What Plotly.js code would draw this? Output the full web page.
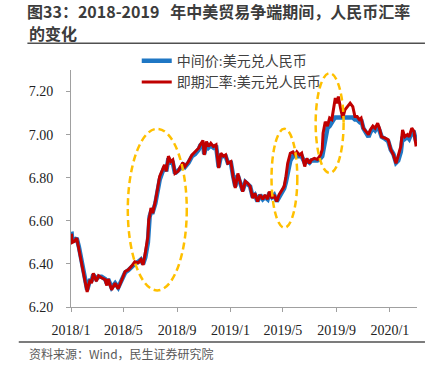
<!DOCTYPE html>
<html>
<head>
<meta charset="utf-8">
<script src="https://cdn.plot.ly/plotly-3.0.1.min.js"></script>
<style>html,body{margin:0;padding:0;background:#fff;}#chart{width:438px;height:372px;}</style>
</head>
<body>
<div id="chart"></div>
<script>
const dates = [
"2018-01-02","2018-01-04","2018-01-09","2018-01-14","2018-01-19","2018-01-25","2018-01-30","2018-02-02","2018-02-07","2018-02-10",
"2018-02-14","2018-02-17","2018-02-21","2018-02-28","2018-03-05","2018-03-12","2018-03-20","2018-03-24","2018-03-27","2018-04-04",
"2018-04-12","2018-04-19","2018-04-27","2018-05-05","2018-05-12","2018-05-20","2018-05-27","2018-06-04","2018-06-10","2018-06-15",
"2018-06-20","2018-06-26","2018-06-28","2018-06-30","2018-07-03","2018-07-07","2018-07-13","2018-07-18","2018-07-23","2018-07-28",
"2018-08-03","2018-08-07","2018-08-12","2018-08-17","2018-08-22","2018-08-27","2018-09-03","2018-09-07","2018-09-14","2018-09-19",
"2018-09-27","2018-10-05","2018-10-12","2018-10-20","2018-10-24","2018-10-30","2018-11-02","2018-11-07","2018-11-12","2018-11-17",
"2018-11-23","2018-11-29","2018-12-05","2018-12-10","2018-12-16","2018-12-21","2018-12-26","2019-01-02","2019-01-07","2019-01-12",
"2019-01-18","2019-01-23","2019-01-29","2019-02-04","2019-02-09","2019-02-15","2019-02-21","2019-02-26","2019-03-04","2019-03-10",
"2019-03-16","2019-03-21","2019-03-27","2019-03-31","2019-04-06","2019-04-11","2019-04-17","2019-04-22","2019-04-29","2019-05-04",
"2019-05-08","2019-05-12","2019-05-18","2019-05-24","2019-05-29","2019-06-02","2019-06-08","2019-06-13","2019-06-20","2019-06-25",
"2019-07-01","2019-07-05","2019-07-12","2019-07-19","2019-07-26","2019-07-30","2019-08-01","2019-08-06","2019-08-11","2019-08-16",
"2019-08-21","2019-08-25","2019-08-29","2019-09-02","2019-09-05","2019-09-10","2019-09-15","2019-09-20","2019-09-26","2019-10-02",
"2019-10-08","2019-10-13","2019-10-18","2019-10-23","2019-10-27","2019-11-01","2019-11-07","2019-11-13","2019-11-17","2019-11-23",
"2019-11-28","2019-12-04","2019-12-08","2019-12-13","2019-12-21","2019-12-28","2020-01-03","2020-01-09","2020-01-15","2020-01-20",
"2020-01-26","2020-01-30","2020-02-04","2020-02-10","2020-02-14","2020-02-20","2020-02-25","2020-03-01"
];
// 即期汇率
const spot = [
6.54,6.50,6.505,6.52,6.47,6.405,6.35,6.31,6.27,6.30,
6.327,6.31,6.357,6.32,6.345,6.336,6.327,6.30,6.33,6.28,
6.31,6.285,6.33,6.365,6.373,6.39,6.41,6.405,6.42,6.395,
6.45,6.527,6.605,6.62,6.66,6.636,6.69,6.76,6.806,6.83,
6.86,6.83,6.90,6.875,6.883,6.82,6.83,6.845,6.87,6.852,
6.875,6.906,6.92,6.937,6.953,6.973,6.906,6.968,6.945,6.96,
6.945,6.953,6.845,6.914,6.90,6.906,6.867,6.875,6.806,6.752,
6.82,6.775,6.736,6.783,6.775,6.76,6.705,6.728,6.69,6.72,
6.70,6.72,6.70,6.736,6.705,6.72,6.69,6.72,6.744,6.76,
6.806,6.867,6.914,6.92,6.906,6.92,6.906,6.914,6.852,6.89,
6.867,6.883,6.89,6.885,6.905,6.93,7.007,7.06,7.04,7.077,
7.07,7.115,7.17,7.146,7.177,7.123,7.077,7.115,7.13,7.146,
7.13,7.084,7.084,7.07,7.077,7.03,7.015,7.00,7.022,7.04,
7.03,7.053,7.03,6.99,6.984,6.976,6.93,6.906,6.867,6.90,
6.945,7.022,6.99,7.00,6.99,7.03,7.015,6.945
];
// 中间价
const mid = [
6.55,6.51,6.51,6.52,6.48,6.41,6.36,6.32,6.28,6.30,
6.33,6.32,6.35,6.33,6.34,6.34,6.33,6.31,6.33,6.29,
6.31,6.29,6.32,6.36,6.37,6.39,6.40,6.41,6.42,6.40,
6.43,6.50,6.59,6.62,6.64,6.64,6.68,6.74,6.79,6.82,
6.85,6.83,6.89,6.87,6.87,6.82,6.83,6.84,6.86,6.85,
6.87,6.90,6.91,6.93,6.95,6.96,6.91,6.96,6.94,6.95,
6.94,6.95,6.85,6.90,6.90,6.90,6.87,6.87,6.81,6.76,
6.81,6.78,6.74,6.78,6.77,6.76,6.71,6.72,6.69,6.72,
6.70,6.71,6.70,6.73,6.71,6.72,6.69,6.71,6.73,6.75,
6.78,6.83,6.88,6.90,6.90,6.90,6.90,6.90,6.87,6.88,
6.87,6.88,6.88,6.88,6.89,6.90,6.92,6.99,7.03,7.04,
7.06,7.07,7.08,7.08,7.08,7.08,7.08,7.08,7.08,7.08,
7.08,7.07,7.07,7.06,7.07,7.03,7.01,6.99,7.01,7.03,
7.02,7.04,7.02,6.99,6.98,6.97,6.93,6.91,6.87,6.88,
6.92,6.99,6.98,6.99,6.98,7.01,7.01,6.97
];
const seriesNames = ["中间价:美元兑人民币", "即期汇率:美元兑人民币"];
const xTickVals = ["2018-01-01","2018-05-01","2018-09-01","2019-01-01","2019-05-01","2019-09-01","2020-01-01"];
const xTickText = ["2018/1","2018/5","2018/9","2019/1","2019/5","2019/9","2020/1"];
const yTickVals = [6.2, 6.4, 6.6, 6.8, 7.0, 7.2];
const yTickText = ["6.20","6.40","6.60","6.80","7.00","7.20"];

const serif = '"Liberation Serif", "Times New Roman", "Noto Sans CJK SC", serif';
const sans = '"Noto Sans CJK SC", "Noto Sans", sans-serif';

const traces = [
  {x: dates, y: mid, type: 'scatter', mode: 'lines', name: seriesNames[0],
   line: {color: '#1F77C4', width: 4.5}},
  {x: dates, y: spot, type: 'scatter', mode: 'lines', name: seriesNames[1],
   line: {color: '#C00000', width: 3}}
];

const ell = {type: 'circle', xref: 'x', yref: 'y', layer: 'above',
  line: {color: '#FFC000', width: 2.5, dash: '7px,4px'}, fillcolor: 'rgba(0,0,0,0)'};

const layout = {
  width: 438, height: 372,
  margin: {l: 71, r: 21, t: 70, b: 65},
  paper_bgcolor: '#fff', plot_bgcolor: '#fff',
  showlegend: true,
  title: {text: '<b>图33：2018-2019&nbsp;&nbsp; 年中美贸易争端期间，人民币汇率</b>',
    font: {family: sans, size: 16, color: '#3c3c3c'},
    x: 27/438, xref: 'container', xanchor: 'left',
    y: 1 - 12.5/372, yref: 'container', yanchor: 'middle'},
  legend: {x: 0.19, y: 1.105, xanchor: 'left', yanchor: 'top',
    bgcolor: 'rgba(0,0,0,0)', font: {family: serif, size: 14, color: '#404040'},
    itemwidth: 30},
  xaxis: {type: 'date', range: ['2018-01-01', '2020-03-03'],
    tickvals: xTickVals, ticktext: xTickText,
    ticks: 'outside', ticklen: 4, tickcolor: '#a0a0a0', tickwidth: 1,
    showline: true, linecolor: '#a0a0a0', linewidth: 1,
    showgrid: false, zeroline: false, ticklabelstandoff: 6,
    tickfont: {family: serif, size: 14, color: '#222'}},
  yaxis: {range: [6.2, 7.3], tickvals: yTickVals, ticktext: yTickText,
    ticks: 'outside', ticklen: 4, tickcolor: '#a0a0a0', tickwidth: 1,
    showline: true, linecolor: '#a0a0a0', linewidth: 1,
    showgrid: false, zeroline: false, ticklabelstandoff: 10,
    tickfont: {family: serif, size: 14, color: '#222'}},
  shapes: [
    Object.assign({}, ell, {x0: '2018-05-11', x1: '2018-09-23', y0: 6.277, y1: 7.027}),
    Object.assign({}, ell, {x0: '2019-04-05', x1: '2019-06-03', y0: 6.568, y1: 7.027}),
    Object.assign({}, ell, {x0: '2019-07-15', x1: '2019-09-17', y0: 6.822, y1: 7.285}),
    {type: 'line', xref: 'paper', yref: 'paper', x0: -0.126, x1: 1.023, y0: 1.113, y1: 1.113,
     line: {color: '#505050', width: 1.5}},
    {type: 'line', xref: 'paper', yref: 'paper', x0: -0.151, x1: 1.023, y0: -0.1476, y1: -0.1476,
     line: {color: '#505050', width: 1.5}}
  ],
  annotations: [
    {text: '<b>的变化</b>', xref: 'paper', yref: 'paper', x: -0.126, y: 1.158,
     xanchor: 'left', yanchor: 'middle', showarrow: false,
     font: {family: sans, size: 16, color: '#3c3c3c'}},
    {text: '资料来源：Wind，民生证券研究院', xref: 'paper', yref: 'paper', x: -0.126, y: -0.197,
     xanchor: 'left', yanchor: 'middle', showarrow: false,
     font: {family: sans, size: 12, color: '#595959'}}
  ]
};

Plotly.newPlot('chart', traces, layout, {displayModeBar: false, staticPlot: true});
</script>
</body>
</html>
